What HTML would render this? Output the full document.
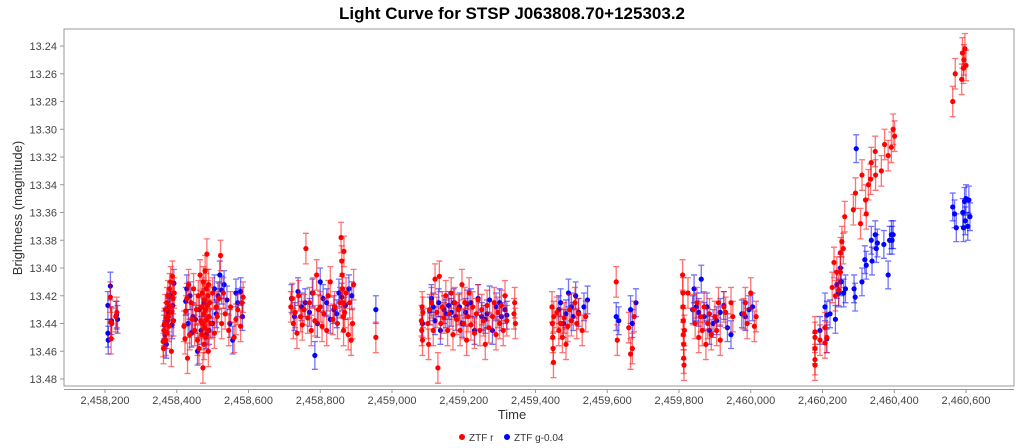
<!DOCTYPE html>
<html><head><meta charset="utf-8"><style>
body{margin:0;background:#fff;}
svg{display:block;font-family:"Liberation Sans",sans-serif;}
</style></head><body>
<svg id="chart" width="1024" height="448">
<text x="512" y="19" text-anchor="middle" font-size="17" font-weight="bold" fill="#000">Light Curve for STSP J063808.70+125303.2</text>
<rect x="64" y="29" width="950" height="357" fill="#fff" stroke="#999" stroke-width="1"/>
<line x1="64" y1="389.5" x2="1014" y2="389.5" stroke="#999"/>
<g id="yt"></g>
<g id="xt"></g>
<g id="marks"></g>
<text x="512" y="419" text-anchor="middle" font-size="13" fill="#333">Time</text>
<text transform="translate(22,208) rotate(-90)" text-anchor="middle" font-size="13" fill="#333">Brightness (magnitude)</text>
<g>
<circle cx="462" cy="437" r="3" fill="#f00"/>
<text x="469" y="441" font-size="10" fill="#333">ZTF r</text>
<circle cx="507" cy="437" r="3" fill="#00f"/>
<text x="514" y="441" font-size="10" fill="#333">ZTF g-0.04</text>
</g>
</svg>
<script>
const yTicks=[13.24,13.26,13.28,13.30,13.32,13.34,13.36,13.38,13.40,13.42,13.44,13.46,13.48];
const xTicks=[2458200,2458400,2458600,2458800,2459000,2459200,2459400,2459600,2459800,2460000,2460200,2460400,2460600];
const errR=0.011, errG=0.010;
const rT=[2458215,2458216,2458217,2458219,2458230,2458233,
2458362,2458363,2458364,2458366,2458368,2458369,2458370,2458372,2458373,2458375,2458377,2458378,2458380,2458381,2458383,2458385,2458386,2458388,2458390,2458391,2458393,
2458420,2458423,2458425,2458428,2458430,2458433,2458436,2458440,2458443,2458447,2458450,2458455,2458458,2458460,2458462,2458465,2458467,2458469,2458470,2458471,2458472,2458473,2458474,2458475,2458476,2458477,2458478,2458479,2458480,2458481,2458482,2458483,2458484,2458485,2458486,2458487,2458488,2458489,2458490,2458492,2458495,2458500,2458505,2458510,2458513,2458518,2458522,2458525,2458530,2458535,2458545,2458550,2458560,2458565,2458570,2458578,2458582,2458585,
2458718,2458722,2458725,2458730,2458735,2458740,2458745,2458750,2458755,2458760,2458765,2458770,2458775,2458780,2458785,2458790,2458795,2458800,2458805,2458810,2458818,2458822,2458828,2458835,2458840,2458848,2458855,2458858,2458860,2458861,2458862,2458863,2458864,2458865,2458866,2458868,2458872,2458878,2458882,2458886,2458890,2458893,2458955,
2459082,2459083,2459084,2459085,2459086,2459100,2459102,2459105,2459110,2459115,2459120,2459125,2459128,2459132,2459136,2459140,2459145,2459150,2459155,2459160,2459165,2459170,2459175,2459180,2459185,2459190,2459195,2459200,2459203,2459208,2459212,2459215,2459220,2459225,2459230,2459235,2459240,2459245,2459250,2459255,2459260,2459265,2459270,2459280,2459285,2459290,2459295,2459300,2459305,2459310,2459315,2459320,2459340,2459342,2459344,
2459446,2459447,2459448,2459449,2459450,2459451,2459460,2459465,2459470,2459475,2459480,2459485,2459490,2459495,2459500,2459510,2459515,2459520,2459530,2459540,
2459625,2459628,2459660,2459665,2459670,2459675,
2459810,2459811,2459811,2459812,2459812,2459813,2459813,2459814,2459815,2459825,2459840,2459845,2459850,2459855,2459860,2459865,2459870,2459875,2459880,2459885,2459890,2459900,2459905,2459910,2459915,2459925,2459930,2459945,2459950,2459980,2459985,2459990,2460000,2460010,2460015,
2460179,2460179,2460179,2460179,2460179,2460193,2460207,2460207,2460212,2460227,2460232,2460236,2460240,2460245,2460250,2460254,2460258,2460262,2460250,
2460286,2460292,2460306,2460310,2460320,2460322,2460328,2460334,2460336,2460347,2460348,2460364,2460373,2460383,2460392,2460397,2460401,
2460563,2460570,2460588,2460590,2460593,2460597,2460600,2460594];
const rM=[13.421,13.439,13.451,13.44,13.435,13.432,
13.453,13.458,13.445,13.440,13.430,13.452,13.436,13.425,13.447,13.420,13.435,13.442,13.415,13.428,13.410,13.460,13.432,13.406,13.422,13.438,13.418,
13.442,13.451,13.431,13.422,13.465,13.412,13.448,13.425,13.437,13.415,13.445,13.430,13.452,13.420,13.458,13.405,13.438,13.428,13.448,13.418,13.440,13.472,13.410,13.433,13.455,13.423,13.443,13.402,13.430,13.450,13.415,13.437,13.390,13.427,13.445,13.420,13.460,13.412,13.435,13.425,13.440,13.418,13.447,13.428,13.435,13.422,13.391,13.440,13.418,13.433,13.445,13.428,13.450,13.437,13.430,13.442,13.425,13.421,
13.428,13.422,13.440,13.432,13.447,13.420,13.435,13.441,13.430,13.386,13.436,13.425,13.445,13.418,13.438,13.405,13.430,13.428,13.442,13.433,13.445,13.420,13.410,13.437,13.428,13.440,13.425,13.378,13.395,13.405,13.415,13.425,13.435,13.445,13.388,13.432,13.418,13.448,13.425,13.452,13.440,13.412,13.450,
13.438,13.445,13.428,13.452,13.432,13.440,13.455,13.430,13.425,13.445,13.408,13.432,13.472,13.406,13.440,13.428,13.436,13.420,13.445,13.433,13.418,13.448,13.425,13.437,13.430,13.445,13.412,13.440,13.425,13.452,13.435,13.418,13.441,13.428,13.447,13.433,13.423,13.445,13.430,13.438,13.455,13.427,13.443,13.435,13.425,13.448,13.432,13.440,13.427,13.445,13.420,13.438,13.433,13.425,13.440,
13.428,13.440,13.450,13.458,13.468,13.435,13.432,13.445,13.440,13.450,13.436,13.455,13.442,13.430,13.438,13.425,13.440,13.433,13.445,13.435,
13.410,13.452,13.443,13.462,13.458,13.435,
13.405,13.418,13.428,13.438,13.448,13.455,13.465,13.470,13.445,13.418,13.430,13.440,13.425,13.450,13.435,13.445,13.428,13.455,13.440,13.433,13.448,13.435,13.445,13.425,13.452,13.428,13.432,13.425,13.435,13.433,13.425,13.440,13.418,13.442,13.435,
13.446,13.450,13.458,13.466,13.470,13.452,13.443,13.454,13.450,13.414,13.396,13.420,13.403,13.416,13.389,13.381,13.386,13.363,13.403,
13.358,13.346,13.368,13.333,13.351,13.361,13.340,13.336,13.324,13.316,13.333,13.330,13.311,13.319,13.313,13.300,13.305,
13.280,13.260,13.264,13.245,13.256,13.242,13.254,13.250];
const gT=[2458208,2458208,2458209,2458215,2458218,2458235,2458232,
2458365,2458367,2458371,2458374,2458376,2458379,2458382,2458387,2458389,2458392,
2458425,2458428,2458432,2458437,2458441,2458445,2458452,2458458,2458463,2458468,2458476,2458482,2458490,2458500,2458505,2458510,2458515,2458520,2458525,2458532,2458540,2458548,2458556,2458565,2458570,2458578,2458583,
2458720,2458728,2458738,2458748,2458758,2458770,2458778,2458785,2458792,2458800,2458808,2458818,2458828,2458838,2458846,2458852,2458860,2458870,2458880,2458888,2458955,
2459085,2459105,2459110,2459115,2459120,2459130,2459135,2459145,2459150,2459158,2459165,2459172,2459178,2459188,2459195,2459205,2459210,2459220,2459230,2459240,2459250,2459260,2459265,2459272,2459280,2459290,2459300,2459305,2459315,2459320,
2459465,2459470,2459478,2459485,2459492,2459500,2459505,2459512,2459520,2459535,2459545,
2459625,2459632,2459665,2459670,2459680,
2459838,2459842,2459848,2459855,2459862,2459870,2459878,2459885,2459895,2459905,2459915,2459925,2459935,2459945,2459975,2459985,2459995,2460005,
2460193,2460207,2460212,2460212,2460221,2460236,2460240,2460245,2460250,2460252,2460259,2460264,
2460288,2460291,2460294,2460310,2460318,2460322,2460336,2460338,2460347,2460350,2460353,2460371,2460383,2460387,2460392,2460394,2460397,
2460563,2460568,2460573,2460591,2460593,2460596,2460598,2460600,2460605,2460608,2460611];
const gM=[13.427,13.447,13.452,13.413,13.438,13.437,13.434,
13.441,13.448,13.455,13.438,13.432,13.428,13.420,13.441,13.427,13.411,
13.424,13.415,13.440,13.420,13.447,13.435,13.437,13.460,13.430,13.445,13.425,13.448,13.445,13.440,13.415,13.433,13.420,13.405,13.416,13.412,13.423,13.440,13.452,13.418,13.425,13.417,13.435,
13.422,13.435,13.417,13.428,13.425,13.432,13.418,13.463,13.440,13.410,13.422,13.425,13.437,13.430,13.433,13.418,13.421,13.427,13.415,13.420,13.430,
13.440,13.431,13.422,13.428,13.438,13.425,13.445,13.430,13.433,13.427,13.432,13.425,13.435,13.428,13.440,13.432,13.426,13.425,13.445,13.422,13.435,13.437,13.433,13.423,13.445,13.428,13.425,13.435,13.430,13.434,
13.430,13.425,13.440,13.433,13.418,13.428,13.435,13.420,13.432,13.428,13.423,
13.435,13.438,13.430,13.440,13.425,
13.430,13.415,13.428,13.432,13.408,13.435,13.428,13.445,13.440,13.438,13.432,13.427,13.443,13.448,13.433,13.435,13.430,13.428,
13.445,13.428,13.434,13.451,13.433,13.437,13.412,13.418,13.400,13.410,13.418,13.415,
13.415,13.421,13.314,13.410,13.394,13.398,13.380,13.395,13.376,13.386,13.382,13.383,13.405,13.380,13.376,13.380,13.376,
13.356,13.361,13.371,13.360,13.371,13.352,13.366,13.350,13.370,13.351,13.363];

const NS="http://www.w3.org/2000/svg";
function xs(d){return 105+(d-2458200)*(861/2400);}
function ys(m){return 46+(m-13.24)*(333/0.24);}
function mk(tag,attrs,parent){const e=document.createElementNS(NS,tag);for(const k in attrs)e.setAttribute(k,attrs[k]);parent.appendChild(e);return e;}
const yt=document.getElementById('yt'),xt=document.getElementById('xt'),marks=document.getElementById('marks');
yTicks.forEach(v=>{const y=ys(v);
 const l=mk('line',{x1:60,y1:y,x2:64,y2:y,stroke:'#999'},yt);
 
 
 const t=mk('text',{x:57,y:y+4,'text-anchor':'end','font-size':11,fill:'#444'},yt);
 t.textContent=v.toFixed(2);
 
 
});
xTicks.forEach(v=>{const x=xs(v);
 const l=mk('line',{x1:x,y1:389,x2:x,y2:393,stroke:'#999'},xt);
 
 
 const t=mk('text',{x:x,y:404,'text-anchor':'middle','font-size':11,fill:'#444'},xt);
 t.textContent=v.toLocaleString('en-US');
 
 
});
function series(T,M,err,col,name){
 const g=mk('g',{},marks);
 
 
 for(let i=0;i<T.length;i++){
  const x=xs(T[i]),y1=ys(M[i]-err),y2=ys(M[i]+err);
  mk('path',{d:`M${x},${y1}V${y2}M${x-3},${y1}H${x+3}M${x-3},${y2}H${x+3}`,stroke:col,'stroke-opacity':0.55,'stroke-width':1.3,fill:'none'},g);
 }
 for(let i=0;i<T.length;i++){
  const c=mk('circle',{cx:xs(T[i]),cy:ys(M[i]),r:2.6,fill:col},g);
  
  
 }
}
series(gT,gM,errG,'#0000ff','series-ztf-g');
series(rT,rM,errR,'#ff0000','series-ztf-r');
</script>
</body></html>
